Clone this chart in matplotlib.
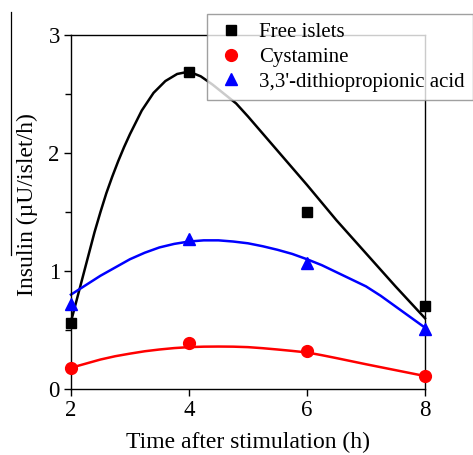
import matplotlib
matplotlib.use("Agg")
import matplotlib.pyplot as plt
from matplotlib.lines import Line2D
from matplotlib.ticker import MultipleLocator

plt.rcParams["font.family"] = ["Liberation Serif", "DejaVu Serif"]

# measured points
t_pts = [2, 4, 6, 8]
free_islets = [0.56, 2.69, 1.50, 0.70]
cystamine = [0.18, 0.39, 0.32, 0.11]
dtpa = [0.72, 1.27, 1.07, 0.51]

# fitted curves
t_free = [2.0, 2.1, 2.2, 2.3, 2.4, 2.5, 2.6, 2.7, 2.8, 2.9, 3.0, 3.2, 3.4,
          3.6, 3.8, 4.0, 4.2, 4.4, 4.6, 4.8, 5.0, 5.5, 6.0, 6.5, 7.0, 7.5, 8.0]
fit_free = [0.57, 0.76, 0.95, 1.14, 1.33, 1.50, 1.66, 1.80, 1.93, 2.05, 2.16,
            2.36, 2.51, 2.61, 2.67, 2.69, 2.65, 2.58, 2.50, 2.42, 2.31, 2.02,
            1.73, 1.43, 1.15, 0.87, 0.60]
t_fit = [2.0, 2.25, 2.5, 2.75, 3.0, 3.25, 3.5, 3.75, 4.0, 4.25, 4.5, 4.75,
         5.0, 5.25, 5.5, 5.75, 6.0, 6.25, 6.5, 6.75, 7.0, 7.25, 7.5, 7.75, 8.0]
fit_cyst = [0.18, 0.215, 0.25, 0.278, 0.30, 0.32, 0.335, 0.347, 0.355, 0.359,
            0.36, 0.359, 0.355, 0.346, 0.335, 0.323, 0.31, 0.287, 0.262,
            0.236, 0.21, 0.185, 0.16, 0.135, 0.11]
fit_dtpa = [0.80, 0.88, 0.96, 1.03, 1.10, 1.155, 1.20, 1.23, 1.25, 1.26,
            1.26, 1.25, 1.235, 1.21, 1.18, 1.145, 1.10, 1.05, 0.99, 0.93,
            0.87, 0.79, 0.70, 0.61, 0.52]

fig = plt.figure(figsize=(4.73, 4.55), dpi=100)
ax = fig.add_axes([0.150, 0.145, 0.7485, 0.778])

ax.plot(t_free, fit_free, color="black", lw=1.8, clip_on=False)
ax.plot(t_fit, fit_cyst, color="red", lw=1.8, clip_on=False)
ax.plot(t_fit, fit_dtpa, color="blue", lw=1.8, clip_on=False)

ax.plot(t_pts, free_islets, "s", color="black", ms=7, ls="none",
        clip_on=False, zorder=5, label="Free islets")
ax.plot(t_pts, cystamine, "o", color="red", ms=8.5, ls="none",
        clip_on=False, zorder=5, label="Cystamine")
ax.plot(t_pts, dtpa, "^", color="blue", ms=9, ls="none",
        clip_on=False, zorder=5, label="3,3'-dithiopropionic acid")

ax.set_xlim(2, 8)
ax.set_ylim(0, 3)
ax.set_xticks([2, 4, 6, 8])
ax.set_yticks([0, 1, 2, 3])
ax.yaxis.set_minor_locator(MultipleLocator(0.5))
ax.tick_params(which="major", direction="out", length=5, width=1,
               labelsize=16.5, pad=3)
ax.tick_params(which="minor", direction="out", length=4, width=1)
for s in ax.spines.values():
    s.set_linewidth(1)

ax.set_xlabel("Time after stimulation (h)", fontsize=17, labelpad=8)
ax.set_ylabel("Insulin (\u00b5U/islet/h)", fontsize=17)
ax.yaxis.set_label_coords(-0.093, 0.52)

leg = ax.legend(loc="upper left", bbox_to_anchor=(0.384, 1.059),
                borderaxespad=0, fontsize=15, fancybox=False,
                frameon=True, handletextpad=0.6, labelspacing=0.25,
                borderpad=0.4, handlelength=1.5)
leg.get_frame().set_edgecolor("#888888")
leg.get_frame().set_linewidth(1)
leg.set_zorder(10)

fig.add_artist(Line2D([0.0226, 0.0226], [0.974, 0.44], color="black",
                      lw=0.9, transform=fig.transFigure))

fig.savefig("out.png", dpi=100)
